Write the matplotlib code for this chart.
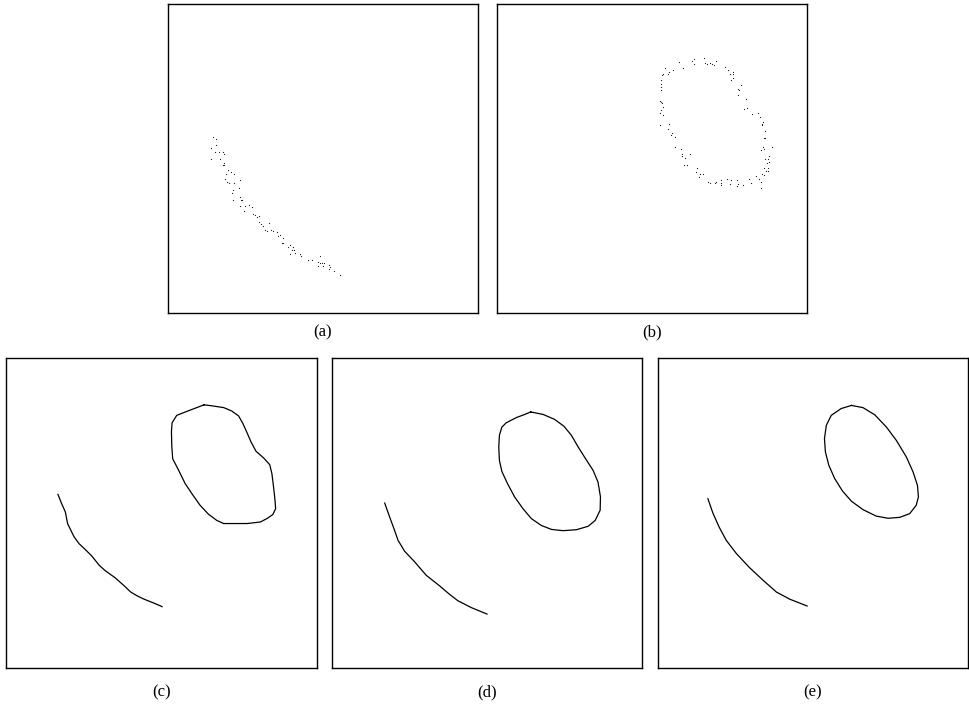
import numpy as np
import matplotlib
matplotlib.use("Agg")
import matplotlib.pyplot as plt

plt.rcParams['font.family'] = ['Liberation Serif', 'DejaVu Serif']

# (a) noisy samples along the arc
arc_x = [14.5, 15.4, 14.0, 15.6, 15.0, 16.3, 17.6, 18.1, 14.0, 16.9, 18.1, 17.8, 18.2,
         19.4, 18.6, 20.3, 21.2, 18.5, 19.1, 19.6, 21.2, 23.1, 22.8, 20.9, 20.7, 21.1,
         23.2, 23.4, 24.0, 23.2, 24.7, 26.0, 27.0, 24.4, 27.4, 28.0, 28.7, 29.5, 29.4,
         30.0, 30.7, 32.7, 31.3, 31.8, 33.3, 33.9, 35.1, 35.5, 36.1, 37.0, 36.9, 37.2,
         38.6, 39.3, 40.4, 40.1, 40.6, 39.3, 40.9, 42.6, 42.9, 45.2, 46.3, 49.1, 48.3,
         48.9, 49.8, 50.3, 48.5, 50.0, 52.0, 52.3, 51.8, 53.7, 55.5]
arc_y = [57.0, 56.2, 53.5, 54.3, 52.2, 52.2, 52.2, 51.4, 49.8, 49.8, 48.7, 47.9, 47.9,
         46.2, 45.1, 45.6, 45.1, 43.5, 42.5, 42.2, 42.1, 43.0, 40.3, 39.7, 38.9, 36.5,
         37.6, 36.7, 36.5, 34.6, 34.6, 34.8, 34.4, 33.0, 32.2, 31.6, 31.0, 31.3, 29.3,
         28.9, 28.1, 29.0, 27.0, 26.5, 26.8, 26.6, 26.2, 24.9, 25.1, 24.3, 22.7, 22.8,
         21.4, 21.9, 21.4, 20.3, 20.3, 19.2, 19.4, 19.2, 18.4, 17.3, 17.3, 18.4, 16.4,
         16.1, 16.2, 16.1, 15.2, 15.2, 15.4, 14.9, 14.4, 13.7, 12.4]

# (b) noisy samples around the closed loop
loop_x = [63.6, 66.8, 63.0, 63.6, 58.6, 59.9, 56.9, 54.1, 55.4, 55.2, 53.6, 53.1, 52.8,
          53.0, 53.0, 52.8, 67.1, 67.9, 68.8, 69.4, 70.0, 70.7, 73.5, 74.6, 76.1, 75.2,
          76.1, 76.2, 75.6, 78.6, 77.6, 78.0, 77.9, 80.2, 80.5, 79.6, 82.2, 84.3, 84.9,
          85.8, 85.6, 85.5, 86.6, 86.0, 86.6, 85.9, 86.2, 88.7, 85.3, 87.9, 87.5, 86.5,
          87.9, 87.2, 86.1, 87.5, 86.9, 87.3, 85.5, 86.1, 83.6, 84.5, 81.9, 85.1, 81.3,
          79.5, 77.5, 77.4, 77.8, 75.4, 75.2, 74.1, 72.2, 72.1, 70.4, 72.2, 70.6, 68.8,
          68.0, 65.5, 65.2, 64.4, 64.3, 66.4, 61.3, 60.3, 59.4, 59.8, 59.7, 60.8, 62.1,
          57.3, 57.5, 56.0, 56.3, 55.2, 55.6, 52.7, 53.4, 52.7, 52.8, 53.7, 53.0, 52.6,
          53.3, 85.1]
loop_y = [82.1, 82.6, 81.6, 80.6, 81.3, 79.2, 78.6, 79.4, 78.1, 77.5, 77.3, 77.0, 75.4,
          74.1, 73.0, 72.1, 80.9, 80.6, 80.8, 80.6, 80.1, 81.6, 79.7, 78.8, 78.1, 77.3,
          77.3, 75.9, 75.4, 73.8, 72.6, 72.1, 70.5, 69.1, 66.4, 66.0, 64.5, 64.6, 63.3,
          61.8, 61.3, 61.0, 59.0, 56.5, 56.5, 53.6, 53.1, 53.7, 52.7, 50.9, 49.9, 49.9,
          49.0, 48.4, 47.0, 47.0, 46.0, 45.8, 45.1, 44.5, 44.4, 43.5, 42.2, 42.4, 43.3,
          41.4, 43.0, 41.1, 41.7, 43.1, 41.6, 43.3, 43.0, 42.1, 42.1, 41.4, 42.3, 42.1,
          42.4, 45.1, 44.1, 47.0, 45.7, 45.1, 47.9, 47.9, 53.0, 51.5, 50.9, 50.2, 51.4,
          53.6, 56.9, 57.6, 58.4, 59.6, 61.1, 60.8, 64.0, 64.8, 65.7, 66.8, 68.4, 68.7,
          68.0, 40.5]

# (c) fitted curves, rough
c_arc_x = [16.7, 17.9, 19.1, 19.8, 21.1, 21.9, 23.5, 25.4, 27.6, 30.0, 31.9, 35.1,
           37.8, 40.1, 42.3, 44.4, 47.4, 50.2]
c_arc_y = [56.0, 53.0, 50.3, 46.6, 43.9, 42.3, 40.1, 38.3, 36.1, 33.1, 31.4, 29.1,
           26.7, 24.5, 23.2, 22.2, 21.0, 19.8]
c_loop_x = [63.7, 66.7, 70.0, 72.6, 74.8, 76.2, 77.5, 78.8, 80.4, 82.8, 84.8, 85.5,
            86.1, 86.5, 86.7, 85.8, 83.9, 81.8, 77.5, 73.2, 70.0, 67.8, 65.1, 62.4,
            59.8, 57.6, 55.5, 53.6, 53.3, 53.2, 53.4, 54.9, 58.2, 63.7]
c_loop_y = [84.9, 84.5, 84.0, 82.9, 81.3, 78.8, 75.9, 72.9, 69.9, 67.8, 65.6, 62.7,
            57.8, 54.1, 51.4, 49.5, 48.2, 47.1, 46.6, 46.6, 46.6, 47.6, 49.6, 52.5,
            56.2, 59.5, 63.8, 67.5, 71.8, 76.3, 79.1, 81.5, 82.8, 84.9]

# (d) smoother curves
d_arc_x = [17.0, 18.6, 20.0, 21.3, 23.4, 26.7, 30.4, 34.7, 38.0, 40.6, 44.9, 50.0]
d_arc_y = [53.2, 48.7, 44.9, 41.2, 37.7, 34.2, 29.9, 26.5, 23.7, 21.7, 19.5, 17.4]
d_loop_x = [64.1, 68.1, 71.8, 74.8, 77.2, 79.4, 81.8, 84.2, 85.8, 86.6, 86.5, 84.9,
            82.6, 78.8, 74.5, 70.8, 67.5, 64.3, 61.6, 58.9, 56.6, 54.8, 54.0, 53.8,
            54.0, 54.8, 56.2, 59.5, 62.2, 64.1]
d_loop_y = [82.6, 81.8, 80.2, 78.0, 75.1, 71.3, 67.5, 63.8, 60.0, 55.2, 50.9, 47.6,
            45.7, 44.6, 44.3, 44.7, 46.0, 48.2, 51.4, 55.2, 59.5, 63.4, 67.0, 71.3,
            75.1, 77.7, 79.1, 80.8, 81.8, 82.6]

# (e) smoothest curves
e_arc_x = [16.1, 17.7, 19.7, 22.0, 25.3, 29.6, 33.9, 38.2, 42.5, 48.1]
e_arc_y = [54.6, 50.0, 45.5, 41.2, 36.9, 32.3, 28.3, 24.5, 22.2, 20.0]
e_loop_x = [62.4, 66.1, 69.9, 73.7, 76.9, 80.1, 82.3, 83.7, 84.0, 83.3, 81.2, 78.0,
            74.2, 70.4, 66.1, 62.4, 59.5, 57.0, 55.1, 54.0, 53.7, 54.3, 55.9, 59.1, 62.4]
e_loop_y = [84.7, 84.0, 81.7, 77.7, 73.4, 68.1, 63.2, 58.9, 55.2, 52.5, 49.8, 48.6,
            48.3, 49.0, 51.1, 53.8, 57.1, 61.1, 65.4, 69.7, 74.0, 78.3, 81.5, 83.7, 84.7]

labels = ['(a)', '(b)', '(c)', '(d)', '(e)']

W, H = 969, 704
fig = plt.figure(figsize=(W / 100, H / 100), dpi=100)

# panel boxes in pixels: left, top, right, bottom
boxes = [(168, 4, 478, 313), (497, 4, 807, 313),
         (6, 358, 317, 668), (332, 358, 642, 668), (658, 358, 968, 668)]
label_y = [332, 332, 692, 692, 692]  # label centres, pixels from top
axes = []
for (l, t, r, b) in boxes:
    ax = fig.add_axes([l / W, 1 - b / H, (r - l) / W, (b - t) / H])
    ax.set_xlim(0, 100)
    ax.set_ylim(0, 100)
    ax.set_xticks([])
    ax.set_yticks([])
    for s in ax.spines.values():
        s.set_linewidth(1.0)
    axes.append(ax)

axes[0].plot(arc_x, arc_y, '.', color='#111111', ms=1.7, mew=0)
axes[1].plot(loop_x, loop_y, '.', color='#111111', ms=1.7, mew=0)
for ax, (ax_, ay_, lx_, ly_) in zip(axes[2:], [(c_arc_x, c_arc_y, c_loop_x, c_loop_y),
                                               (d_arc_x, d_arc_y, d_loop_x, d_loop_y),
                                               (e_arc_x, e_arc_y, e_loop_x, e_loop_y)]):
    ax.plot(ax_, ay_, 'k-', lw=0.9, solid_joinstyle='round')
    ax.plot(lx_, ly_, 'k-', lw=0.9, solid_joinstyle='round')

for (l, t, r, b), ly, lab in zip(boxes, label_y, labels):
    fig.text((l + r) / 2 / W, 1 - ly / H, lab, ha='center', va='center', fontsize=12)

fig.savefig('out.png', dpi=100)
